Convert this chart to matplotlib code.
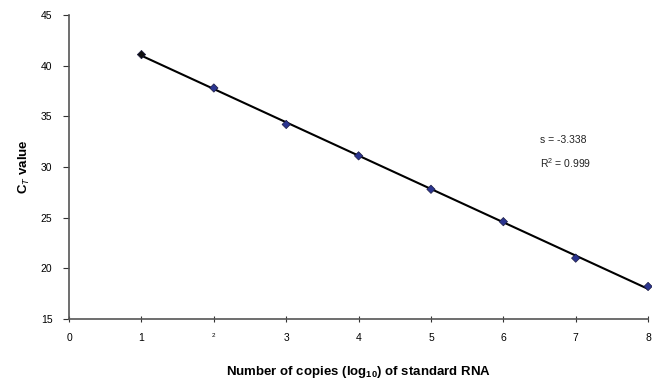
import numpy as np
import matplotlib
matplotlib.use('Agg')
import matplotlib.pyplot as plt

plt.rcParams['font.family'] = ['Liberation Sans', 'DejaVu Sans']
plt.rcParams['mathtext.fontset'] = 'custom'
plt.rcParams['mathtext.rm'] = 'Liberation Sans'
plt.rcParams['mathtext.it'] = 'Liberation Sans:italic'
plt.rcParams['mathtext.bf'] = 'Liberation Sans:bold'
plt.rcParams['mathtext.bfit'] = 'Liberation Sans:bold:italic'

# standard curve data
log_copies = [1, 2, 3, 4, 5, 6, 7, 8]
ct_values = [41.1, 37.8, 34.2, 31.1, 27.8, 24.6, 21.0, 18.2]
x_ticks = [0, 1, 2, 3, 4, 5, 6, 7, 8]
y_ticks = [15, 20, 25, 30, 35, 40, 45]

fig = plt.figure(figsize=(6.52, 3.87), dpi=100)
ax = fig.add_axes([0.106, 0.176, 0.888, 0.785])

# trend line
slope, intercept = np.polyfit(log_copies, ct_values, 1)
xs = np.array([log_copies[0], log_copies[-1]])
ax.plot(xs, slope * xs + intercept, color='black', lw=1.5, zorder=2)

# first marker sits under the line start and looks black
colors = ['#111111'] + ['#2b3590'] * (len(log_copies) - 1)
ax.scatter(log_copies, ct_values, marker='D', s=18, c=colors,
           edgecolor='#1a1a40', linewidth=0.5, zorder=3, clip_on=False)

ax.set_xlim(0, 8)
ax.set_ylim(15, 45)
ax.set_xticks(x_ticks)
ax.set_yticks(y_ticks)
ax.set_xticklabels([str(t) for t in x_ticks], fontsize=7.5)
ax.set_yticklabels([str(t) for t in y_ticks], fontsize=7.5)
ax.get_xticklabels()[2].set_fontsize(4.5)

for side in ['top', 'right']:
    ax.spines[side].set_visible(False)
for side in ['left', 'bottom']:
    ax.spines[side].set_color('#555555')
    ax.spines[side].set_linewidth(1.2)
ax.tick_params(axis='y', length=4, color='#333333', pad=8)
ax.tick_params(axis='x', direction='inout', length=5, color='#333333', pad=8)

ax.set_xlabel('Number of copies (log$\\mathbf{_{10}}$) of standard RNA', fontsize=9.5,
              fontweight='bold', labelpad=15)
ax.set_ylabel('C$\\mathbf{_{\\mathit{T}}}$ value', fontsize=9.5, fontweight='bold', labelpad=6)

ax.text(6.5, 32.7, 's = -3.338', fontsize=7.5, color='#222222', va='center')
ax.text(6.5, 30.4, 'R$^2$ = 0.999', fontsize=7.5, color='#222222', va='center')

fig.savefig('out.png', dpi=100)
